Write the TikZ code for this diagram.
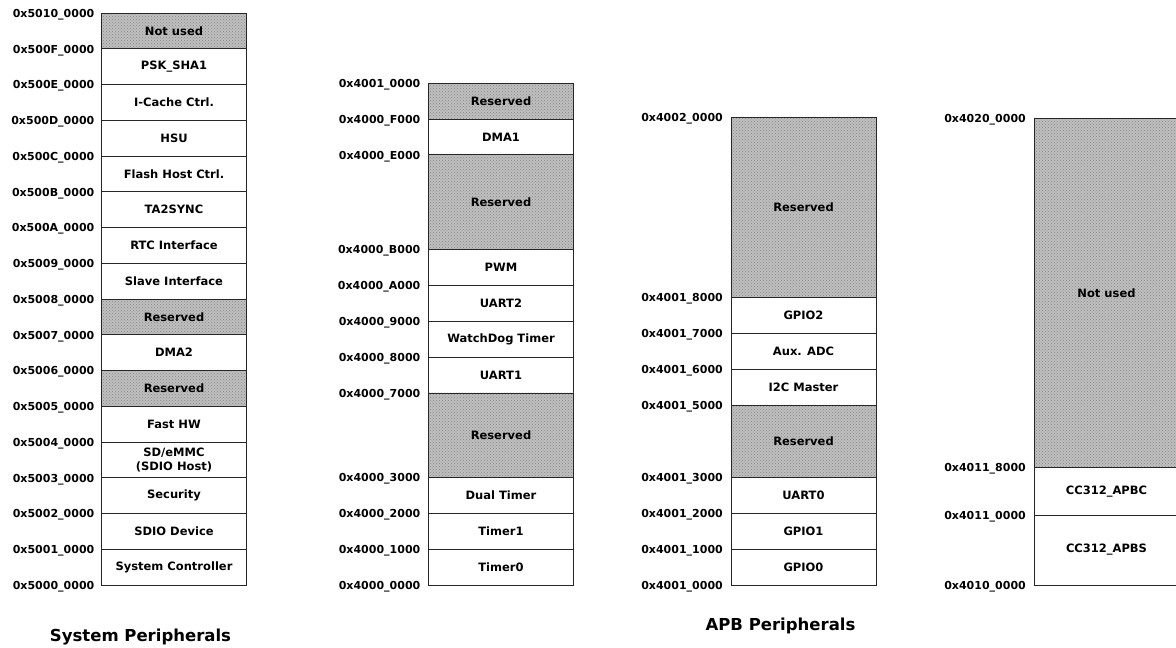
\documentclass[tikz,border=0pt]{standalone}
\usepackage{fontspec}
\setmainfont{DejaVu Sans}
\usepackage{tikz}
\usetikzlibrary{positioning}
\usetikzlibrary{patterns}

\newcommand{\cellfont}{\fontsize{11.5}{13.5}\selectfont\bfseries}
\newcommand{\addrfont}{\fontsize{11}{13.5}\selectfont\bfseries}
\newcommand{\titlefont}{\fontsize{16.5}{20}\selectfont\bfseries}

\tikzset{
	cell/.style={draw=black!85, line width=0.8pt, minimum width=145pt, inner sep=0pt, outer sep=0pt, align=center, font=\cellfont},
	rsvd/.style={cell, preaction={fill=gray!50}, pattern=crosshatch dots, pattern color=gray!95},
	addr/.style={font=\addrfont, inner sep=0pt, yshift=-1.5pt},
	title/.style={font=\titlefont},
}

\begin{document}
\begin{tikzpicture}[x=1pt, y=-1pt]
	\useasboundingbox (0,0) rectangle (1176,648);
	
	% System Peripherals
	\node [rsvd, minimum height=35.75pt, anchor=north] (notused) at (174,13) {Not used};
	\node [cell, minimum height=35.75pt, below=0pt of notused] (psk) {PSK\_SHA1};
	\node [cell, minimum height=35.75pt, below=0pt of psk] (icache) {I-Cache Ctrl.};
	\node [cell, minimum height=35.75pt, below=0pt of icache] (hsu) {HSU};
	\node [cell, minimum height=35.75pt, below=0pt of hsu] (flash) {Flash Host Ctrl.};
	\node [cell, minimum height=35.75pt, below=0pt of flash] (tasync) {TA2SYNC};
	\node [cell, minimum height=35.75pt, below=0pt of tasync] (rtc) {RTC Interface};
	\node [cell, minimum height=35.75pt, below=0pt of rtc] (slave) {Slave Interface};
	\node [rsvd, minimum height=35.75pt, below=0pt of slave] (rsva) {Reserved};
	\node [cell, minimum height=35.75pt, below=0pt of rsva] (dmatwo) {DMA2};
	\node [rsvd, minimum height=35.75pt, below=0pt of dmatwo] (rsvb) {Reserved};
	\node [cell, minimum height=35.75pt, below=0pt of rsvb] (fasthw) {Fast HW};
	\node [cell, minimum height=35.75pt, below=0pt of fasthw] (sdemmc) {SD/eMMC\\(SDIO Host)};
	\node [cell, minimum height=35.75pt, below=0pt of sdemmc] (security) {Security};
	\node [cell, minimum height=35.75pt, below=0pt of security] (sdiodev) {SDIO Device};
	\node [cell, minimum height=35.75pt, below=0pt of sdiodev] (sysctrl) {System Controller};
	
	\node [addr, left=7pt of notused.north west] {0x5010\_0000};
	\node [addr, left=7pt of psk.north west] {0x500F\_0000};
	\node [addr, left=7pt of icache.north west] {0x500E\_0000};
	\node [addr, left=7pt of hsu.north west] {0x500D\_0000};
	\node [addr, left=7pt of flash.north west] {0x500C\_0000};
	\node [addr, left=7pt of tasync.north west] {0x500B\_0000};
	\node [addr, left=7pt of rtc.north west] {0x500A\_0000};
	\node [addr, left=7pt of slave.north west] {0x5009\_0000};
	\node [addr, left=7pt of rsva.north west] {0x5008\_0000};
	\node [addr, left=7pt of dmatwo.north west] {0x5007\_0000};
	\node [addr, left=7pt of rsvb.north west] {0x5006\_0000};
	\node [addr, left=7pt of fasthw.north west] {0x5005\_0000};
	\node [addr, left=7pt of sdemmc.north west] {0x5004\_0000};
	\node [addr, left=7pt of security.north west] {0x5003\_0000};
	\node [addr, left=7pt of sdiodev.north west] {0x5002\_0000};
	\node [addr, left=7pt of sysctrl.north west] {0x5001\_0000};
	\node [addr, left=7pt of sysctrl.south west] {0x5000\_0000};
	
	% APB Peripherals, 0x4000_xxxx
	\node [rsvd, minimum height=35.9pt, anchor=north] (rsvc) at (501,83) {Reserved};
	\node [cell, minimum height=35.9pt, below=0pt of rsvc] (dmaone) {DMA1};
	\node [rsvd, minimum height=94.5pt, below=0pt of dmaone] (rsvd) {Reserved};
	\node [cell, minimum height=35.9pt, below=0pt of rsvd] (pwm) {PWM};
	\node [cell, minimum height=35.9pt, below=0pt of pwm] (uarttwo) {UART2};
	\node [cell, minimum height=35.9pt, below=0pt of uarttwo] (wdt) {WatchDog Timer};
	\node [cell, minimum height=35.9pt, below=0pt of wdt] (uartone) {UART1};
	\node [rsvd, minimum height=84.6pt, below=0pt of uartone] (rsve) {Reserved};
	\node [cell, minimum height=35.9pt, below=0pt of rsve] (dualtmr) {Dual Timer};
	\node [cell, minimum height=35.9pt, below=0pt of dualtmr] (tmrone) {Timer1};
	\node [cell, minimum height=35.9pt, below=0pt of tmrone] (tmrzero) {Timer0};
	
	\node [addr, left=8pt of rsvc.north west] {0x4001\_0000};
	\node [addr, left=8pt of dmaone.north west] {0x4000\_F000};
	\node [addr, left=8pt of rsvd.north west] {0x4000\_E000};
	\node [addr, left=8pt of pwm.north west] {0x4000\_B000};
	\node [addr, left=8pt of uarttwo.north west] {0x4000\_A000};
	\node [addr, left=8pt of wdt.north west] {0x4000\_9000};
	\node [addr, left=8pt of uartone.north west] {0x4000\_8000};
	\node [addr, left=8pt of rsve.north west] {0x4000\_7000};
	\node [addr, left=8pt of dualtmr.north west] {0x4000\_3000};
	\node [addr, left=8pt of tmrone.north west] {0x4000\_2000};
	\node [addr, left=8pt of tmrzero.north west] {0x4000\_1000};
	\node [addr, left=8pt of tmrzero.south west] {0x4000\_0000};
	
	% APB Peripherals, 0x4001_xxxx
	\node [rsvd, minimum height=179.8pt, anchor=north] (rsvf) at (803.5,117.5) {Reserved};
	\node [cell, minimum height=36pt, below=0pt of rsvf] (gpiotwo) {GPIO2};
	\node [cell, minimum height=36pt, below=0pt of gpiotwo] (auxadc) {Aux. ADC};
	\node [cell, minimum height=36pt, below=0pt of auxadc] (i2c) {I2C Master};
	\node [rsvd, minimum height=72pt, below=0pt of i2c] (rsvg) {Reserved};
	\node [cell, minimum height=36pt, below=0pt of rsvg] (uartzero) {UART0};
	\node [cell, minimum height=36pt, below=0pt of uartzero] (gpioone) {GPIO1};
	\node [cell, minimum height=36pt, below=0pt of gpioone] (gpiozero) {GPIO0};
	
	\node [addr, left=8pt of rsvf.north west] {0x4002\_0000};
	\node [addr, left=8pt of gpiotwo.north west] {0x4001\_8000};
	\node [addr, left=8pt of auxadc.north west] {0x4001\_7000};
	\node [addr, left=8pt of i2c.north west] {0x4001\_6000};
	\node [addr, left=8pt of rsvg.north west] {0x4001\_5000};
	\node [addr, left=8pt of uartzero.north west] {0x4001\_3000};
	\node [addr, left=8pt of gpioone.north west] {0x4001\_2000};
	\node [addr, left=8pt of gpiozero.north west] {0x4001\_1000};
	\node [addr, left=8pt of gpiozero.south west] {0x4001\_0000};
	
	% APB Peripherals, CC312
	\node [rsvd, minimum height=349.5pt, anchor=north] (notusedb) at (1106.5,118) {Not used};
	\node [cell, minimum height=47.5pt, below=0pt of notusedb] (apbc) {CC312\_APBC};
	\node [cell, minimum height=70pt, below=0pt of apbc] (apbs) {CC312\_APBS};
	
	\node [addr, left=8pt of notusedb.north west] {0x4020\_0000};
	\node [addr, left=8pt of apbc.north west] {0x4011\_8000};
	\node [addr, left=8pt of apbs.north west] {0x4011\_0000};
	\node [addr, left=8pt of apbs.south west] {0x4010\_0000};
	
	\node [title] (systitle) at (140.5,637) {System Peripherals};
	\node [title] (apbtitle) at (780.5,626) {APB Peripherals};
\end{tikzpicture}
\end{document}
